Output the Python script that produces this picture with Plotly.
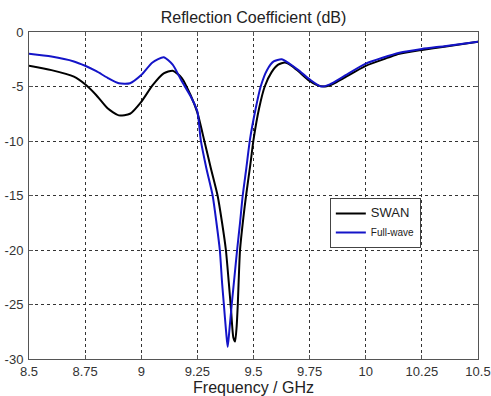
import plotly.graph_objects as go

swan_f = [8.50, 8.60, 8.70, 8.75, 8.80, 8.85, 8.90, 8.95, 9.00, 9.05, 9.10, 9.14, 9.18, 9.22, 9.25,
          9.28, 9.31, 9.34, 9.36, 9.377, 9.39, 9.40, 9.41, 9.418, 9.425, 9.43, 9.44, 9.455, 9.467,
          9.485, 9.50, 9.525, 9.55, 9.58, 9.61, 9.64, 9.67, 9.70, 9.75, 9.78, 9.82, 9.86, 9.90,
          10.0, 10.1, 10.15, 10.25, 10.35, 10.5]
swan_db = [-3.1, -3.5, -4.1, -4.8, -5.8, -7.0, -7.65, -7.5, -6.4, -4.9, -3.8, -3.55, -4.2, -5.8, -7.4,
           -9.9, -12.5, -15.0, -17.5, -20.0, -23.0, -25.5, -28.0, -28.4, -27.0, -25.0, -20.0, -17.0, -15.0,
           -12.3, -9.9, -7.0, -5.0, -3.7, -3.0, -2.8, -3.1, -3.6, -4.5, -4.85, -5.0, -4.7, -4.25,
           -3.1, -2.35, -2.0, -1.65, -1.35, -0.9]

fw_f = [8.50, 8.60, 8.70, 8.75, 8.80, 8.85, 8.90, 8.95, 9.00, 9.05, 9.10, 9.14, 9.18, 9.22, 9.25,
        9.265, 9.29, 9.318, 9.335, 9.35, 9.36, 9.368, 9.378, 9.385, 9.392, 9.403, 9.415, 9.427, 9.44,
        9.452, 9.468, 9.484, 9.51, 9.532, 9.56, 9.59, 9.625, 9.66, 9.70, 9.75, 9.80, 9.84, 9.90,
        10.0, 10.15, 10.25, 10.35, 10.5]
fw_db = [-2.0, -2.25, -2.7, -3.1, -3.6, -4.2, -4.7, -4.7, -3.95, -2.8, -2.32, -3.0, -4.5, -5.9, -7.3,
         -9.9, -12.5, -15.0, -17.5, -20.0, -23.0, -25.0, -27.5, -28.9, -27.5, -25.0, -22.5, -20.0, -17.5,
         -15.0, -12.5, -9.9, -7.0, -5.0, -3.5, -2.7, -2.5, -2.9, -3.5, -4.35, -5.0, -4.8, -4.1,
         -2.9, -1.9, -1.55, -1.3, -0.9]

x_ticks = [8.5, 8.75, 9, 9.25, 9.5, 9.75, 10, 10.25, 10.5]
x_labels = ["8.5", "8.75", "9", "9.25", "9.5", "9.75", "10", "10.25", "10.5"]
y_ticks = [0, -5, -10, -15, -20, -25, -30]
y_labels = ["0", "-5", "-10", "-15", "-20", "-25", "-30"]

FONT = "Liberation Sans, Arial"

fig = go.Figure()
fig.add_trace(go.Scatter(x=swan_f, y=swan_db, mode="lines",
                         name='<span style="font-size:13px">SWAN</span>',
                         line=dict(color="#000000", width=2, shape="spline", smoothing=0.6)))
fig.add_trace(go.Scatter(x=fw_f, y=fw_db, mode="lines",
                         name='Full-wave',
                         line=dict(color="#1414c8", width=2, shape="spline", smoothing=0.6)))

axis_common = dict(showline=True, linecolor="#555555", linewidth=1, mirror="ticks",
                   ticks="inside", ticklen=4, tickcolor="#555555",
                   showgrid=True, gridcolor="#333333", gridwidth=1, griddash="dot",
                   zeroline=False, automargin=False,
                   tickfont=dict(family=FONT, size=13, color="#333333"))

fig.update_xaxes(range=[8.5, 10.5], tickvals=x_ticks, ticktext=x_labels,
                 title=dict(text="Frequency / GHz", font=dict(family=FONT, size=16, color="#222222"),
                            standoff=0), **axis_common)
fig.update_yaxes(range=[-30, 0], tickvals=y_ticks, ticktext=y_labels, ticklabelstandoff=2, **axis_common)

W, H = 491, 396
fig.update_layout(
    width=W, height=H,
    margin=dict(l=29, r=13, t=32, b=37, autoexpand=False),
    paper_bgcolor="white", plot_bgcolor="white",
    title=dict(text="Reflection Coefficient (dB)", x=0.5, xanchor="center", xref="paper",
               y=1 - 17 / H, yref="container", yanchor="middle", automargin=False,
               font=dict(family=FONT, size=16, color="#222222")),
    legend=dict(x=0.67, y=0.416, xanchor="left", yanchor="middle",
                bordercolor="#444444", borderwidth=1, bgcolor="white",
                font=dict(family=FONT, size=10, color="#222222"),
                tracegroupgap=0, itemwidth=30),
    showlegend=True,
)

fig.write_html("out.html", config={"displayModeBar": False},
               post_script="document.body.style.margin='0';document.body.style.overflow='hidden';")
